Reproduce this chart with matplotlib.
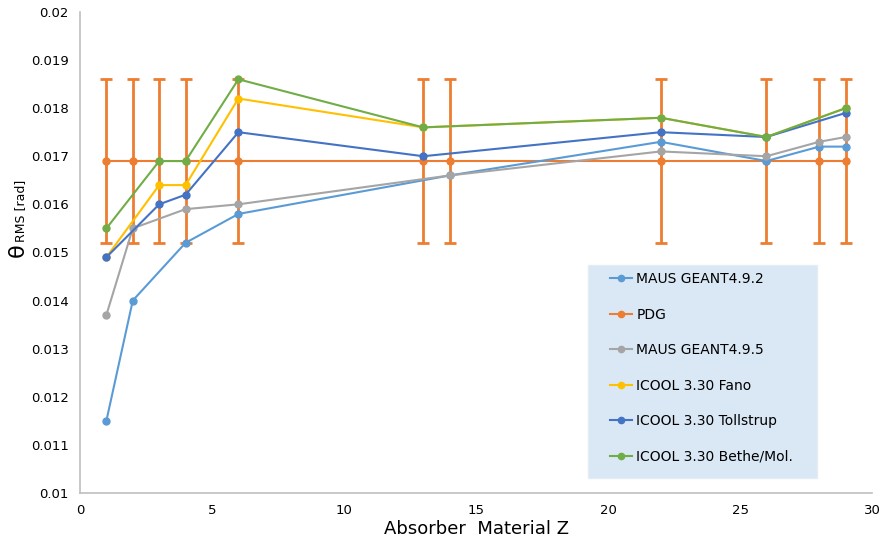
import numpy as np
import matplotlib.pyplot as plt
from matplotlib.lines import Line2D
import matplotlib.patches as patches

# Datos
z_pdg = [1, 2, 3, 4, 6, 13, 14, 22, 26, 28, 29]
pdg = [0.0169] * 11
pdg_err = [0.0017] * 11

z_g492 = [1, 2, 4, 6, 14, 22, 26, 28, 29]
g492 = [0.0115, 0.0140, 0.0152, 0.0158, 0.0166, 0.0173, 0.0169, 0.0172, 0.0172]

z_g495 = [1, 2, 4, 6, 14, 22, 26, 28, 29]
g495 = [0.0137, 0.0155, 0.0159, 0.0160, 0.0166, 0.0171, 0.0170, 0.0173, 0.0174]

z_icool = [1, 3, 4, 6, 13, 22, 26, 29]
fano = [0.0149, 0.0164, 0.0164, 0.0182, 0.0176, 0.0178, 0.0174, 0.0180]
tollstrup = [0.0149, 0.0160, 0.0162, 0.0175, 0.0170, 0.0175, 0.0174, 0.0179]
bethe = [0.0155, 0.0169, 0.0169, 0.0186, 0.0176, 0.0178, 0.0174, 0.0180]

xticks = [0, 5, 10, 15, 20, 25, 30]
yticks = [0.010, 0.011, 0.012, 0.013, 0.014, 0.015, 0.016, 0.017, 0.018, 0.019, 0.020]
ylabels = ['0.01', '0.011', '0.012', '0.013', '0.014', '0.015', '0.016', '0.017', '0.018', '0.019', '0.02']

colores = ['#5B9BD5', '#ED7D31', '#A5A5A5', '#FFC000', '#4472C4', '#70AD47']
nombres = ['MAUS GEANT4.9.2', 'PDG', 'MAUS GEANT4.9.5', 'ICOOL 3.30 Fano',
           'ICOOL 3.30 Tollstrup', 'ICOOL 3.30 Bethe/Mol.']

fig = plt.figure(figsize=(8.81, 5.44), dpi=100)
ax = fig.add_axes([0.0908, 0.094, 0.899, 0.884])

ms = 5
lw = 1.5
ax.plot(z_g492, g492, color=colores[0], marker='o', ms=ms, lw=lw, zorder=3)
ax.errorbar(z_pdg, pdg, yerr=pdg_err, color=colores[1], marker='o', ms=ms, lw=lw,
            elinewidth=2, capsize=4, capthick=2, zorder=2)
ax.plot(z_g495, g495, color=colores[2], marker='o', ms=ms, lw=lw, zorder=3)
ax.plot(z_icool, fano, color=colores[3], marker='o', ms=ms, lw=lw, zorder=3)
ax.plot(z_icool, tollstrup, color=colores[4], marker='o', ms=ms, lw=lw, zorder=3)
ax.plot(z_icool, bethe, color=colores[5], marker='o', ms=ms, lw=lw, zorder=3)

ax.set_xlim(0, 30)
ax.set_ylim(0.01, 0.02)
ax.set_xticks(xticks)
ax.set_yticks(yticks)
ax.set_yticklabels(ylabels)
ax.tick_params(length=0, labelsize=9.5, pad=8)

for s in ['top', 'right']:
    ax.spines[s].set_visible(False)
for s in ['left', 'bottom']:
    ax.spines[s].set_color('#BFBFBF')
    ax.spines[s].set_linewidth(1.2)

ax.set_xlabel('Absorber  Material Z', fontsize=13, labelpad=2)

# Etiqueta del eje y: theta grande y "RMS [rad]" pequeño
fig.text(0.0204, 0.540, 'θ', rotation=90, fontsize=16, ha='center', va='center')
fig.text(0.0238, 0.612, 'RMS [rad]', rotation=90, fontsize=9, ha='center', va='center')

# Caja de la leyenda
caja = patches.Rectangle((0.6414, 0.031), 0.2892, 0.443, transform=ax.transAxes,
                         facecolor='#DAE8F5', edgecolor='#E4ECF4', lw=1, zorder=4)
ax.add_patch(caja)

handles = [Line2D([], [], color=c, marker='o', ms=4.5, lw=1.5) for c in colores]
leg = ax.legend(handles, nombres, loc='upper left', bbox_to_anchor=(0.669, 0.459),
                fontsize=10, labelspacing=1.55, handlelength=1.6, handletextpad=0.3,
                borderpad=0, borderaxespad=0, frameon=False)
leg.set_zorder(5)

fig.savefig('out.png', dpi=100)
